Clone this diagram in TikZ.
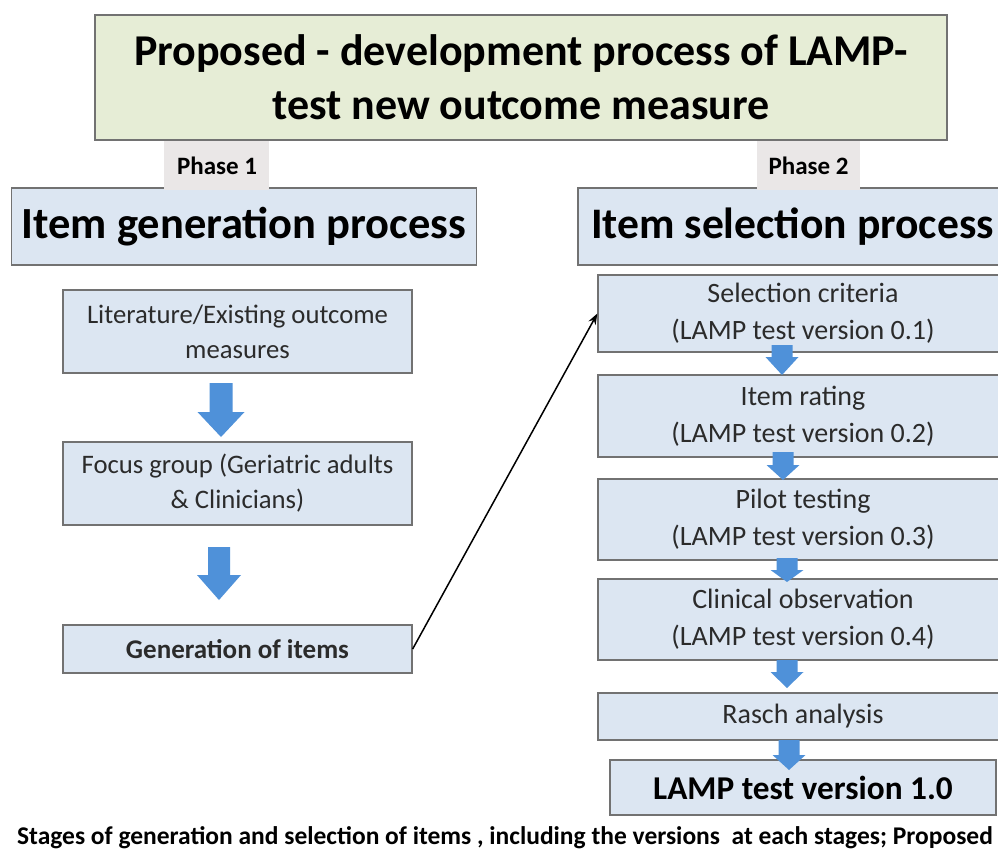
\documentclass[tikz,border=0pt]{standalone}
\usepackage{fontspec}
\setmainfont{Carlito}
\usetikzlibrary{arrows.meta,calc}
\definecolor{boxfill}{HTML}{DCE6F2}
\definecolor{boxline}{HTML}{727272}
\definecolor{titlefill}{HTML}{E6EDD6}
\definecolor{tabfill}{HTML}{EAE7E7}
\definecolor{arrblue}{HTML}{4F91D9}
\definecolor{txt}{HTML}{2B2B2B}
\newcommand{\blockarrow}[6]{%
  \fill[arrblue] (#1-#5,#2) -- (#1+#5,#2) -- (#1+#5,#3) -- (#1+#6,#3) -- (#1,#4) -- (#1-#6,#3) -- (#1-#5,#3) -- cycle;}
\begin{document}
\begin{tikzpicture}[x=1pt,y=-1pt,
  box/.style={draw=boxline, line width=1.3pt, fill=boxfill, inner sep=0pt, align=center, text=txt},
  lbox/.style={box, minimum width=349pt, font=\fontsize{26.7}{35}\selectfont},
  rbox/.style={box, minimum width=410pt, font=\fontsize{28}{37}\selectfont},
  header/.style={draw=boxline, line width=1.3pt, fill=boxfill, inner sep=0pt, font=\bfseries\fontsize{44.5}{50}\selectfont},
  tab/.style={fill=tabfill, inner sep=0pt, font=\bfseries\fontsize{25}{28}\selectfont}]
\useasboundingbox (0,0) rectangle (998,859);
\clip (0,0) rectangle (998,859);
\fill[white] (0,0) rectangle (998,859);
% title
\node[draw=boxline, line width=1.3pt, fill=titlefill, minimum width=852pt, minimum height=125pt, align=center,
  font=\bfseries\fontsize{44}{54}\selectfont] (title) at (521,77.5) {Proposed - development process of LAMP-\\test new outcome measure};
% headers
\node[header, minimum width=465pt, minimum height=77pt] (genhead) at (244,226.5) {Item generation process};
\draw[boxline, line width=1.3pt, fill=boxfill] (578,188) rectangle (1010,265);
\node[anchor=west, inner sep=0pt, font=\bfseries\fontsize{43.6}{50}\selectfont] (selhead) at (591,227) {Item selection process};
% phase tabs
\fill[tabfill] (164,141) rectangle (269,189.5);
\node[tab] (ph1) at (217,166) {Phase 1};
\fill[tabfill] (757,141) rectangle (860,189.5);
\node[tab] (ph2) at (808.5,166) {Phase 2};
% left column
\node[lbox, minimum height=83pt] (lit) at (237.5,331.5) {Literature/Existing outcome\\measures};
\node[lbox, minimum height=83pt] (focus) at (237.5,483.5) {Focus group (Geriatric adults\\\& Clinicians)};
\node[lbox, minimum height=48pt, font=\bfseries\fontsize{27}{32}\selectfont] (gen) at (237.5,649) {Generation of items};
% right column
\node[rbox, minimum height=77pt] (sel) at (803,313.5) {Selection criteria\\(LAMP test version 0.1)};
\node[rbox, minimum height=82pt] (rate) at (803,416) {Item rating\\(LAMP test version 0.2)};
\node[rbox, minimum height=81pt] (pilot) at (803,519.5) {Pilot testing\\(LAMP test version 0.3)};
\node[rbox, minimum height=81pt] (clin) at (803,619.5) {Clinical observation\\(LAMP test version 0.4)};
\node[rbox, minimum height=47pt] (rasch) at (803,716.5) {Rasch analysis};
\node[box, minimum width=386pt, minimum height=55pt, text=black, font=\bfseries\fontsize{33.3}{38}\selectfont] (final) at (803,787.5) {LAMP test version 1.0};
% block arrows
\blockarrow{221}{383}{412}{437}{11.5}{23.5}
\blockarrow{219}{547}{575}{600}{11}{22}
\blockarrow{782}{345}{357}{375}{10.5}{16.5}
\blockarrow{783}{452}{465}{480}{10.5}{16.5}
\blockarrow{787}{558}{570}{582}{10.5}{16.5}
\blockarrow{787}{660}{672}{688}{10.5}{16.5}
\blockarrow{789}{740}{755}{770}{10.5}{16.5}
% connector
\draw[line width=1.5pt, -{Stealth[length=11pt,width=8pt]}] (gen.east) -- (sel.west);
% caption
\node[font=\bfseries\fontsize{25.5}{28}\selectfont, inner sep=0pt] (cap) at (505,838) {Stages of generation and selection of items , including the versions \ at each stages; Proposed};
\end{tikzpicture}
\end{document}
